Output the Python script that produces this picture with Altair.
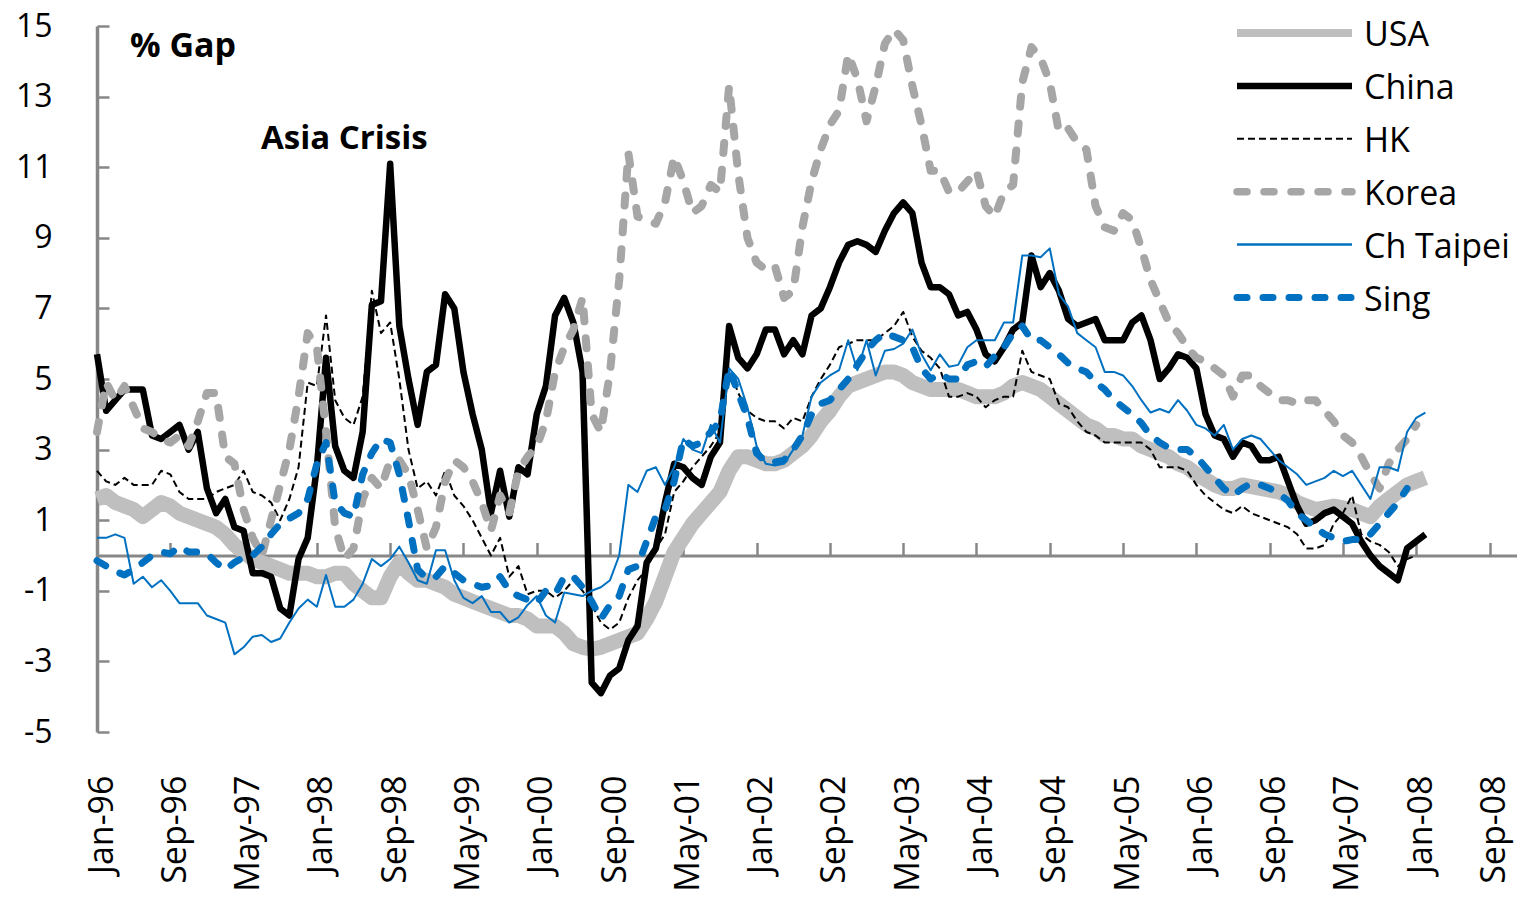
import altair as alt
import pandas as pd

# ---------------- data ----------------
tick_labels = ["Jan-96", "Sep-96", "May-97", "Jan-98", "Sep-98", "May-99", "Jan-00",
               "Sep-00", "May-01", "Jan-02", "Sep-02", "May-03", "Jan-04", "Sep-04",
               "May-05", "Jan-06", "Sep-06", "May-07", "Jan-08", "Sep-08"]
y_ticks = [-5, -3, -1, 1, 3, 5, 7, 9, 11, 13, 15]
series_names = ["USA", "China", "HK", "Korea", "Ch Taipei", "Sing"]
annotations = ["% Gap", "Asia Crisis"]

# monthly values, first value = Jan-96
usa = [1.6, 1.7, 1.5, 1.4, 1.3, 1.1, 1.3, 1.5, 1.4, 1.2, 1.1, 1.0, 0.9, 0.8, 0.6, 0.3,
       0.1, -0.1, -0.2, -0.3, -0.4, -0.5, -0.5, -0.5, -0.6, -0.6, -0.5, -0.5, -0.8, -1.0,
       -1.2, -1.2, -0.6, -0.2, -0.5, -0.7, -0.7, -0.8, -0.9, -1.1, -1.2, -1.3, -1.4, -1.5,
       -1.6, -1.7, -1.7, -1.8, -2.0, -2.0, -2.0, -2.2, -2.5, -2.6, -2.65, -2.6, -2.5, -2.4,
       -2.3, -2.2, -1.8, -1.3, -0.6, 0.1, 0.5, 0.9, 1.2, 1.5, 1.8, 2.4, 2.8, 2.8, 2.7, 2.6,
       2.6, 2.7, 2.9, 3.1, 3.4, 3.8, 4.1, 4.5, 4.8, 4.9, 5.0, 5.1, 5.2, 5.2, 5.1, 4.9, 4.8,
       4.7, 4.7, 4.7, 4.7, 4.6, 4.5, 4.5, 4.5, 4.6, 4.8, 4.9, 4.8, 4.7, 4.5, 4.3, 4.1, 3.9,
       3.7, 3.6, 3.4, 3.4, 3.3, 3.3, 3.1, 3.0, 2.9, 2.8, 2.6, 2.5, 2.3, 2.15, 2.0, 1.9, 1.9,
       2.0, 1.95, 1.9, 1.85, 1.8, 1.7, 1.5, 1.4, 1.3, 1.35, 1.4, 1.35, 1.3, 1.2, 1.1, 1.4,
       1.6, 1.8, 2.0, 2.1, 2.2]
china = [5.7, 4.1, 4.4, 4.7, 4.7, 4.7, 3.4, 3.3, 3.5, 3.7, 3.0, 3.5, 1.9, 1.2, 1.6, 0.8,
         0.7, -0.5, -0.5, -0.6, -1.5, -1.7, -0.1, 0.5, 2.5, 5.6, 3.1, 2.4, 2.2, 3.5, 7.1,
         7.2, 11.1, 6.5, 5.0, 3.7, 5.2, 5.4, 7.4, 7.0, 5.2, 4.0, 3.0, 1.2, 2.4, 1.1, 2.5,
         2.3, 4.0, 4.8, 6.8, 7.3, 6.6, 5.2, -3.6, -3.9, -3.4, -3.2, -2.4, -2.0, -0.2, 0.2,
         1.5, 2.6, 2.5, 2.2, 2.0, 2.8, 3.2, 6.5, 5.6, 5.3, 5.7, 6.4, 6.4, 5.7, 6.1, 5.7,
         6.8, 7.0, 7.6, 8.3, 8.8, 8.9, 8.8, 8.6, 9.2, 9.7, 10.0, 9.7, 8.3, 7.6, 7.6, 7.4,
         6.8, 6.9, 6.4, 5.7, 5.5, 5.9, 6.4, 6.6, 8.5, 7.6, 8.0, 7.5, 6.7, 6.5, 6.6, 6.7,
         6.1, 6.1, 6.1, 6.6, 6.8, 6.1, 5.0, 5.3, 5.7, 5.6, 5.3, 4.0, 3.4, 3.3, 2.8, 3.2,
         3.1, 2.7, 2.7, 2.8, 2.1, 1.4, 0.9, 1.0, 1.2, 1.3, 1.1, 0.9, 0.4, 0.0, -0.3, -0.5,
         -0.7, 0.2, 0.4, 0.6]
hk = [2.4, 2.1, 2.0, 2.2, 2.0, 2.0, 2.0, 2.4, 2.3, 1.8, 1.6, 1.6, 1.6, 1.8, 1.9, 2.0,
      2.4, 1.8, 1.7, 1.5, 1.0, 1.6, 2.5, 4.9, 4.8, 6.8, 4.4, 3.9, 3.7, 4.5, 7.5, 6.3, 6.6,
      5.0, 3.0, 1.9, 2.1, 1.7, 2.4, 1.7, 1.4, 1.0, 0.5, 0.0, 0.5, -0.6, -0.3, -1.1, -1.0,
      -1.0, -1.2, -1.0, -0.7, -1.0, -1.4, -1.9, -2.1, -1.9, -1.2, -0.7, -0.4, 0.2, 0.6,
      1.8, 2.1, 2.5, 2.8, 3.1, 3.5, 5.3, 4.6, 4.1, 3.9, 3.8, 3.8, 3.6, 3.9, 3.8, 4.5, 5.0,
      5.4, 5.9, 6.0, 6.1, 6.1, 6.1, 6.3, 6.5, 6.9, 6.2, 5.8, 5.6, 5.3, 4.5, 4.5, 4.6, 4.5,
      4.2, 4.4, 4.5, 4.5, 5.8, 5.2, 5.1, 5.0, 4.3, 4.2, 3.8, 3.5, 3.4, 3.2, 3.2, 3.2, 3.2,
      3.2, 3.0, 2.5, 2.5, 2.5, 2.4, 2.0, 1.7, 1.5, 1.3, 1.2, 1.4, 1.2, 1.1, 1.0, 0.9, 0.8,
      0.6, 0.2, 0.2, 0.3, 0.9, 1.2, 1.7, 0.6, 0.4, 0.3, 0.1, -0.3, -0.1, 0.0]
korea = [3.5, 4.9, 4.4, 4.8, 4.2, 3.6, 3.5, 3.3, 3.2, 3.4, 3.1, 3.8, 4.6, 4.6, 2.8, 2.6,
         1.3, 0.5, 0.0, 1.0, 2.0, 3.0, 4.5, 6.3, 5.9, 3.5, 0.8, -0.1, 0.2, 1.6, 2.2, 1.9,
         2.7, 2.7, 2.3, 1.3, 0.2, 0.8, 2.1, 2.7, 2.5, 2.1, 1.5, 0.7, 1.7, 1.2, 2.4, 2.8,
         3.1, 3.8, 5.2, 5.9, 6.4, 7.3, 4.0, 3.5, 5.2, 7.8, 11.4, 9.6, 9.5, 9.4, 10.0, 11.3,
         10.6, 9.7, 9.9, 10.5, 10.3, 13.3, 10.8, 9.0, 8.3, 8.1, 8.2, 7.3, 7.5, 9.3, 10.6,
         11.5, 12.2, 12.6, 14.2, 13.5, 12.3, 13.3, 14.5, 14.9, 14.6, 13.3, 12.2, 10.9, 10.9,
         10.3, 10.3, 10.6, 10.9, 9.9, 9.6, 10.3, 10.5, 13.4, 14.4, 14.1, 13.4, 12.0, 12.1,
         11.7, 11.5, 9.9, 9.3, 9.2, 9.7, 9.5, 8.7, 7.8, 7.2, 6.6, 6.3, 5.9, 5.6, 5.5, 5.3,
         5.1, 4.5, 5.1, 5.1, 4.8, 4.6, 4.4, 4.4, 4.3, 4.4, 4.4, 4.1, 3.8, 3.4, 3.2, 2.8, 2.3,
         1.9, 2.6, 3.0, 3.3, 3.7]
taipei = [0.5, 0.5, 0.6, 0.5, -0.8, -0.6, -0.9, -0.7, -1.0, -1.35, -1.35, -1.35, -1.7,
          -1.8, -1.9, -2.8, -2.6, -2.3, -2.25, -2.45, -2.35, -1.9, -1.5, -1.25, -1.45,
          -0.55, -1.45, -1.45, -1.25, -0.8, -0.1, -0.3, -0.1, 0.25, -0.2, -0.7, -0.8, 0.15,
          0.15, -0.7, -1.2, -1.35, -1.15, -1.6, -1.6, -1.9, -1.75, -1.4, -1.15, -1.7, -1.9,
          -1.05, -1.1, -1.15, -1.0, -0.9, -0.7, 0.0, 2.0, 1.8, 2.4, 2.5, 2.0, 2.5, 3.3, 3.0,
          2.9, 3.7, 3.2, 5.3, 5.0, 4.2, 3.1, 2.6, 2.55, 2.6, 3.0, 3.4, 4.5, 4.9, 5.1, 5.25,
          6.1, 5.25, 6.1, 5.1, 5.8, 5.85, 6.0, 6.4, 5.7, 5.25, 5.7, 5.35, 5.4, 5.9, 6.1, 6.1,
          6.1, 6.6, 6.6, 8.5, 8.5, 8.45, 8.7, 7.4, 7.05, 6.3, 6.1, 5.9, 5.2, 5.2, 5.1, 4.8,
          4.4, 4.05, 4.15, 4.05, 4.4, 4.1, 3.7, 3.6, 3.4, 3.7, 3.0, 3.3, 3.4, 3.3, 3.0, 2.7,
          2.5, 2.3, 2.0, 2.1, 2.2, 2.4, 2.25, 2.4, 2.0, 1.6, 2.5, 2.5, 2.4, 3.5, 3.9, 4.05]
sing = [-0.15, -0.3, -0.45, -0.55, -0.4, -0.2, 0.0, 0.1, 0.05, 0.25, 0.1, 0.1, 0.05, -0.2,
        -0.4, -0.2, -0.05, 0.0, 0.25, 0.6, 0.9, 1.05, 1.2, 1.6, 2.6, 3.2, 1.5, 1.2, 1.1,
        2.3, 2.9, 3.3, 3.2, 2.3, 1.0, -0.4, -0.65, -0.6, -0.3, -0.5, -0.7, -0.8, -0.9,
        -0.85, -0.6, -1.0, -1.15, -1.25, -1.35, -1.0, -1.1, -0.6, -0.6, -0.9, -1.3, -1.8,
        -1.4, -1.15, -0.4, -0.3, 0.4, 1.1, 1.3, 2.1, 3.3, 3.1, 3.2, 3.5, 3.8, 5.3, 4.6, 3.9,
        2.9, 2.65, 2.65, 2.7, 3.0, 3.4, 4.0, 4.3, 4.4, 4.7, 5.0, 5.4, 5.8, 6.1, 6.3, 6.2,
        6.1, 5.9, 5.3, 5.0, 5.15, 5.0, 5.0, 5.4, 5.5, 5.35, 5.65, 5.9, 6.3, 6.5, 6.1, 6.1,
        5.9, 5.7, 5.45, 5.3, 5.2, 4.9, 4.7, 4.4, 4.2, 4.0, 3.75, 3.4, 3.2, 3.05, 3.0, 3.0,
        2.8, 2.5, 2.2, 1.9, 1.7, 1.9, 2.05, 2.0, 1.9, 1.75, 1.55, 1.2, 1.0, 0.8, 0.6, 0.5,
        0.4, 0.45, 0.45, 0.6, 0.9, 1.2, 1.5, 1.9]

values_by_series = {"USA": usa, "China": china, "HK": hk, "Korea": korea,
                    "Ch Taipei": taipei, "Sing": sing}

rows = []
for name in series_names:
    for i, v in enumerate(values_by_series[name]):
        rows.append({"series": name, "month": i, "value": v})
df = pd.DataFrame(rows)
legend_df = pd.DataFrame({"series": series_names})
ann_df = pd.DataFrame({"label": annotations})

# ---------------- styles ----------------
FONT = "Open Sans"
AXIS_GREY = "#878787"
styles = {
    "USA":       dict(color="#BFBFBF", strokeWidth=15, legendWidth=8),
    "China":     dict(color="#000000", strokeWidth=6.5, legendWidth=6.5),
    "HK":        dict(color="#000000", strokeWidth=2, strokeDash=[7, 4], legendWidth=2),
    "Korea":     dict(color="#A6A6A6", strokeWidth=8, strokeDash=[10, 17],
                      strokeCap="round", legendWidth=7.5),
    "Ch Taipei": dict(color="#0070C0", strokeWidth=2, legendWidth=2.5),
    "Sing":      dict(color="#0070C0", strokeWidth=7, strokeDash=[10, 16],
                      strokeCap="round", legendWidth=7),
}

TOP = 18
W, H = 1420, 706
x_scale = alt.Scale(domain=[0, 155], nice=False, zero=False)
y_scale = alt.Scale(domain=[-5, 15], nice=False, zero=False)
x_tick_vals = list(range(0, 8 * len(tick_labels), 8))
label_array = "[" + ",".join("'" + t + "'" for t in tick_labels) + "]"

# bottom axis: labels only
x_axis_labels = alt.Axis(orient="bottom", values=x_tick_vals,
                         labelExpr=label_array + "[round(datum.value / 8)]",
                         labelAngle=270, labelAlign="right", labelBaseline="middle",
                         labelPadding=43, labelOffset=5, labelFont=FONT, labelFontSize=34,
                         labelColor="#000000", labelOverlap=False, labelFlush=False,
                         labelBound=False, domain=False, ticks=False, tickSize=0,
                         grid=False, title=None, zindex=0)
# zero line with inward ticks
zero_pos = H * 15 / 20
x_axis_zero = alt.Axis(orient="top", offset=-zero_pos, values=x_tick_vals, labels=False,
                       domain=True, domainColor=AXIS_GREY, domainWidth=3, ticks=True,
                       tickSize=13, tickColor=AXIS_GREY, tickWidth=2.5, grid=False,
                       title=None, zindex=0)
y_axis_labels = alt.Axis(orient="left", values=y_ticks, labelExpr="datum.value + ''",
                         labelPadding=45, labelFont=FONT, labelFontSize=32,
                         labelColor="#000000", domain=False, ticks=False, tickSize=0,
                         grid=False, title=None, zindex=0, labelOverlap=False,
                         labelFlush=False)
y_axis_line = alt.Axis(orient="right", offset=-W, values=y_ticks, labels=False,
                       domain=True, domainColor=AXIS_GREY, domainWidth=3.5, ticks=True,
                       tickSize=12, tickColor=AXIS_GREY, tickWidth=2.5, grid=False,
                       title=None, zindex=0)

layers = []
for idx, name in enumerate(series_names):
    st = styles[name]
    mk = dict(color=st["color"], strokeWidth=st["strokeWidth"], strokeJoin="round")
    if "strokeDash" in st:
        mk["strokeDash"] = st["strokeDash"]
    if "strokeCap" in st:
        mk["strokeCap"] = st["strokeCap"]
    if idx == 0:
        xa, ya = x_axis_labels, y_axis_labels
    elif idx == 1:
        xa, ya = x_axis_zero, y_axis_line
    else:
        xa, ya = None, None
    line = alt.Chart(df).transform_filter(alt.datum.series == name).mark_line(**mk).encode(
        x=alt.X("month:Q", scale=x_scale, axis=xa),
        y=alt.Y("value:Q", scale=y_scale, axis=ya),
    )
    layers.append(line)

# legend (top right)
LEG_X0, LEG_X1, LEG_TX = 1140, 1255, 1267
for idx, name in enumerate(series_names):
    st = styles[name]
    row_y = 7 + 52.9 * idx
    rk = dict(color=st["color"], strokeWidth=st["legendWidth"])
    if "strokeDash" in st:
        rk["strokeDash"] = st["strokeDash"]
    if "strokeCap" in st:
        rk["strokeCap"] = st["strokeCap"]
    rule = alt.Chart(legend_df).transform_filter(alt.datum.series == name).mark_rule(**rk).encode(
        x=alt.value(LEG_X0), x2=alt.value(LEG_X1), y=alt.value(row_y))
    txt = alt.Chart(legend_df).transform_filter(alt.datum.series == name).mark_text(
        align="left", baseline="middle", font=FONT, fontSize=34, color="#000000").encode(
        x=alt.value(LEG_TX), y=alt.value(row_y + 3), text="series:N")
    layers += [rule, txt]

# annotations
gap_txt = alt.Chart(ann_df).transform_filter(alt.datum.label == annotations[0]).mark_text(
    align="left", baseline="alphabetic", font=FONT, fontSize=34, fontWeight="bold",
    color="#000000").encode(x=alt.value(33), y=alt.value(31), text="label:N")
asia_txt = alt.Chart(ann_df).transform_filter(alt.datum.label == annotations[1]).mark_text(
    align="left", baseline="alphabetic", font=FONT, fontSize=33, fontWeight="bold",
    color="#000000").encode(x=alt.value(164), y=alt.value(123), text="label:N")
layers += [gap_txt, asia_txt]

chart = alt.layer(*layers).resolve_axis(x="independent", y="independent").properties(
    width=W, height=H,
    padding={"left": 89, "top": TOP, "right": 0, "bottom": 166},
    autosize=alt.AutoSizeParams(type="none"),
    background="#FFFFFF",
).configure_view(stroke=None).configure_axis(grid=False)

chart.save("out.html", embed_options={"renderer": "svg", "actions": False})
